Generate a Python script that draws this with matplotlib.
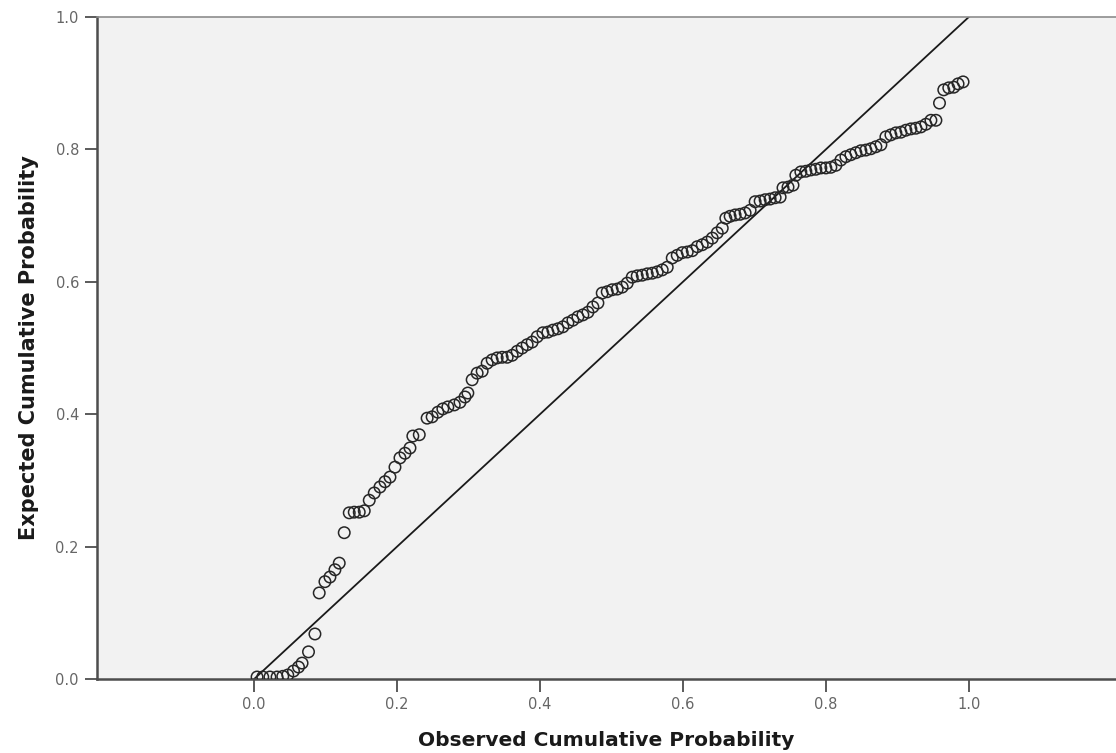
import matplotlib.pyplot as plt

# observed / expected cumulative probabilities
observed = [
    0.004, 0.012, 0.022, 0.032, 0.040, 0.047, 0.055, 0.062, 0.067, 0.076,
    0.085, 0.091, 0.099, 0.106, 0.113, 0.119, 0.126, 0.133, 0.140, 0.147,
    0.154, 0.161, 0.168, 0.176, 0.183, 0.190, 0.197, 0.204, 0.211, 0.218,
    0.222, 0.231, 0.242, 0.249, 0.257, 0.264, 0.271, 0.280, 0.288, 0.295,
    0.299, 0.305, 0.312, 0.319, 0.326, 0.333, 0.340, 0.347, 0.354, 0.361,
    0.368, 0.375, 0.382, 0.389, 0.396, 0.404, 0.411, 0.418, 0.425, 0.432,
    0.439, 0.446, 0.453, 0.460, 0.467, 0.474, 0.481, 0.487, 0.494, 0.501,
    0.508, 0.515, 0.522, 0.529, 0.536, 0.543, 0.550, 0.557, 0.564, 0.571,
    0.578, 0.585, 0.592, 0.599, 0.606, 0.613, 0.620, 0.627, 0.634, 0.641,
    0.648, 0.655, 0.660, 0.666, 0.673, 0.680, 0.687, 0.694, 0.701, 0.708,
    0.715, 0.722, 0.729, 0.736, 0.740, 0.747, 0.754, 0.758, 0.765, 0.772,
    0.779, 0.786, 0.793, 0.800, 0.807, 0.814, 0.821, 0.828, 0.835, 0.842,
    0.849, 0.856, 0.863, 0.870, 0.877, 0.884, 0.891, 0.898, 0.905, 0.912,
    0.919, 0.926, 0.933, 0.940, 0.947, 0.954, 0.959, 0.965, 0.972, 0.979,
    0.985, 0.992,
]
expected = [
    0.003, 0.003, 0.003, 0.003, 0.004, 0.006, 0.012, 0.018, 0.024, 0.041,
    0.068, 0.130, 0.147, 0.154, 0.165, 0.175, 0.221, 0.251, 0.252, 0.252,
    0.254, 0.270, 0.281, 0.290, 0.298, 0.305, 0.320, 0.334, 0.341, 0.349,
    0.367, 0.369, 0.394, 0.396, 0.403, 0.408, 0.411, 0.414, 0.418, 0.426,
    0.432, 0.452, 0.462, 0.465, 0.477, 0.482, 0.485, 0.486, 0.486, 0.489,
    0.495, 0.500, 0.505, 0.509, 0.517, 0.523, 0.524, 0.527, 0.529, 0.532,
    0.538, 0.542, 0.547, 0.550, 0.554, 0.562, 0.568, 0.583, 0.585, 0.588,
    0.589, 0.592, 0.598, 0.607, 0.609, 0.610, 0.612, 0.613, 0.615, 0.618,
    0.622, 0.636, 0.640, 0.644, 0.645, 0.647, 0.653, 0.656, 0.660, 0.666,
    0.674, 0.681, 0.696, 0.699, 0.701, 0.702, 0.704, 0.708, 0.721, 0.722,
    0.724, 0.725, 0.727, 0.728, 0.742, 0.743, 0.746, 0.761, 0.766, 0.767,
    0.769, 0.770, 0.772, 0.772, 0.773, 0.776, 0.784, 0.789, 0.792, 0.795,
    0.798, 0.799, 0.801, 0.804, 0.807, 0.819, 0.822, 0.825, 0.826, 0.829,
    0.831, 0.832, 0.834, 0.838, 0.844, 0.844, 0.870, 0.890, 0.893, 0.894,
    0.899, 0.902,
]
diag = [0.0, 1.0]
ticks = [0.0, 0.2, 0.4, 0.6, 0.8, 1.0]
tick_labels = ["0.0", "0.2", "0.4", "0.6", "0.8", "1.0"]

fig = plt.figure(figsize=(11.16, 7.53), dpi=100)
ax = fig.add_axes([0.0869, 0.0983, 0.9131, 0.8791])
ax.set_facecolor("#f2f2f2")

ax.plot(diag, diag, color="#1a1a1a", linewidth=1.3, zorder=2)
ax.scatter(observed, expected, s=68, facecolors="none", edgecolors="#262626",
           linewidths=1.1, zorder=3)

ax.set_xlim(-0.22, 1.206)
ax.set_ylim(0.0, 1.0)
ax.set_xticks(ticks)
ax.set_xticklabels(tick_labels)
ax.set_yticks(ticks)
ax.set_yticklabels(tick_labels)
ax.tick_params(axis="both", direction="out", length=9, width=1.3, color="#4d4d4d",
               labelcolor="#666666", labelsize=10.5, pad=4)

for side in ["left", "bottom"]:
    ax.spines[side].set_color("#4d4d4d")
    ax.spines[side].set_linewidth(1.8)
ax.spines["top"].set_color("#8c8c8c")
ax.spines["top"].set_linewidth(1.2)
ax.spines["right"].set_visible(False)

ax.set_xlabel("Observed Cumulative Probability", fontsize=14.5, fontweight="bold",
              color="#1a1a1a", labelpad=14)
ax.set_ylabel("Expected Cumulative Probability", fontsize=15, fontweight="bold",
              color="#1a1a1a", labelpad=12)

fig.savefig("out.png", dpi=100, facecolor="white")
